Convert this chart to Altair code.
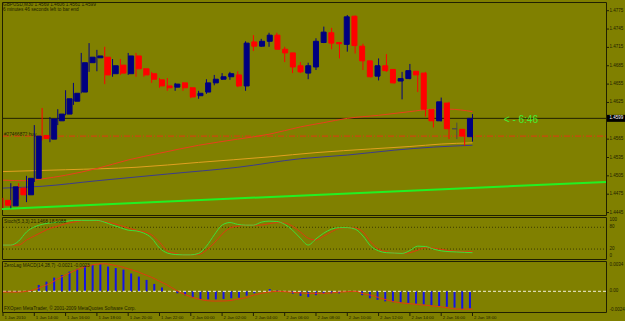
import altair as alt
import pandas as pd

# ---------------- data ----------------
bar_index = list(range(61))
opens = [1.4465, 1.4456, 1.4485, 1.4474, 1.4501, 1.4571, 1.4565, 1.4595, 1.4606, 1.4627,
         1.4642, 1.4690, 1.4698, 1.4699, 1.4672, 1.4686, 1.4672, 1.4701, 1.4680, 1.4672,
         1.4662, 1.4652, 1.4650, 1.4657, 1.4649, 1.4636, 1.4642, 1.4657, 1.4663, 1.4667,
         1.4670, 1.4652, 1.4724, 1.4717, 1.4725, 1.4735, 1.4712, 1.4706, 1.4685, 1.4673,
         1.4683, 1.4723, 1.4739, 1.4723, 1.4720, 1.4766, 1.4717, 1.4693, 1.4668, 1.4685,
         1.4679, 1.4660, 1.4664, 1.4676, 1.4673, 1.4613, 1.4595, 1.4624, 1.4582, 1.4581,
         1.4569]
highs = [1.4469, 1.4493, 1.4493, 1.4505, 1.4588, 1.4616, 1.4601, 1.4614, 1.4645, 1.4657,
         1.4706, 1.4722, 1.4711, 1.4716, 1.4696, 1.4696, 1.4706, 1.4706, 1.4681, 1.4675,
         1.4665, 1.4665, 1.4657, 1.4658, 1.4650, 1.4644, 1.4663, 1.4670, 1.4673, 1.4675,
         1.4676, 1.4725, 1.4735, 1.4729, 1.4739, 1.4739, 1.4716, 1.4706, 1.4691, 1.4690,
         1.4730, 1.4749, 1.4747, 1.4724, 1.4768, 1.4767, 1.4721, 1.4693, 1.4697, 1.4704,
         1.4679, 1.4675, 1.4688, 1.4676, 1.4675, 1.4614, 1.4633, 1.4626, 1.4592, 1.4581,
         1.4606]
lows = [1.4452, 1.4452, 1.4467, 1.4462, 1.4495, 1.4563, 1.4560, 1.4588, 1.4604, 1.4621,
        1.4640, 1.4675, 1.4676, 1.4655, 1.4667, 1.4670, 1.4670, 1.4667, 1.4667, 1.4657,
        1.4649, 1.4644, 1.4644, 1.4644, 1.4632, 1.4631, 1.4639, 1.4653, 1.4662, 1.4662,
        1.4650, 1.4644, 1.4709, 1.4716, 1.4716, 1.4712, 1.4691, 1.4673, 1.4673, 1.4663,
        1.4678, 1.4722, 1.4712, 1.4697, 1.4708, 1.4705, 1.4678, 1.4666, 1.4661, 1.4675,
        1.4656, 1.4630, 1.4663, 1.4642, 1.4602, 1.4584, 1.4594, 1.4565, 1.4565, 1.4554,
        1.4561]
closes = [1.4457, 1.4487, 1.4474, 1.4501, 1.4570, 1.4566, 1.4598, 1.4606, 1.4631, 1.4640,
          1.4690, 1.4699, 1.4701, 1.4670, 1.4685, 1.4673, 1.4701, 1.4680, 1.4670, 1.4663,
          1.4652, 1.4649, 1.4655, 1.4649, 1.4634, 1.4640, 1.4657, 1.4663, 1.4667, 1.4672,
          1.4652, 1.4722, 1.4717, 1.4725, 1.4735, 1.4712, 1.4706, 1.4683, 1.4675, 1.4685,
          1.4725, 1.4740, 1.4722, 1.4721, 1.4765, 1.4718, 1.4693, 1.4667, 1.4685, 1.4677,
          1.4657, 1.4664, 1.4677, 1.4670, 1.4614, 1.4595, 1.4626, 1.4582, 1.4582, 1.4570,
          1.4599]

ma_red_bars = [0, 3, 5, 8, 12, 16, 20, 25, 30, 34, 38, 41, 44, 48, 52, 55, 57, 60]
ma_red_vals = [1.4498, 1.4497, 1.4500, 1.4506, 1.4517, 1.4531, 1.4542, 1.4555, 1.4565,
               1.4573, 1.4585, 1.4592, 1.4599, 1.4604, 1.4610, 1.4614, 1.4614, 1.4610]
ma_gold_bars = [0, 8, 17, 25, 34, 40, 47, 52, 56, 60]
ma_gold_vals = [1.4512, 1.4515, 1.4519, 1.4527, 1.4536, 1.4543, 1.4549, 1.4553, 1.4557, 1.4559]
ma_blue_bars = [0, 5, 12, 21, 30, 38, 44, 50, 55, 60]
ma_blue_vals = [1.4485, 1.4488, 1.4497, 1.4508, 1.4519, 1.4533, 1.4539, 1.4547, 1.4552, 1.4555]
trend_bars = [-0.13, 77.06]
trend_vals = [1.4451, 1.4495]

bid_price = [1.4599]
order_price = [1.4570]

price_ticks = [1.4775, 1.4745, 1.4715, 1.4685, 1.4655, 1.4625, 1.4565, 1.4535, 1.4505, 1.4475, 1.4445]
price_tick_labels = ["1.4775", "1.4745", "1.4715", "1.4685", "1.4655", "1.4625",
                     "1.4565", "1.4535", "1.4505", "1.4475", "1.4445"]

time_tick_bars = [0, 4, 8, 12, 16, 20, 24, 28, 32, 36, 40, 44, 48, 52, 56, 60]
time_tick_labels = ["1 Jan 2010", "1 Jan 14:00", "1 Jan 16:00", "1 Jan 18:00", "1 Jan 20:00",
                    "1 Jan 22:00", "2 Jan 00:00", "2 Jan 02:00", "2 Jan 04:00", "2 Jan 06:00",
                    "2 Jan 08:00", "2 Jan 10:00", "2 Jan 12:00", "2 Jan 14:00", "2 Jan 16:00",
                    "2 Jan 18:00"]

stoch_k = [31, 31, 42, 67, 81, 88, 92, 94, 96, 99,
           99, 99, 99, 94, 86, 79, 72, 70, 64, 50,
           23, 9, 5, 4, 4, 8, 28, 59, 86, 93,
           88, 86, 86, 94, 97, 96, 88, 72, 50, 31,
           48, 64, 75, 79, 79, 75, 56, 28, 15, 10,
           9, 8, 16, 28, 27, 20, 15, 13, 12, 11,
           10]
stoch_d = [31, 31, 31, 45, 56, 67, 77, 83, 90, 94,
           98, 99, 98, 96, 91, 85, 78, 72, 68, 59,
           39, 15, 8, 4, 4, 5, 17, 37, 61, 78,
           83, 86, 86, 86, 90, 93, 92, 83, 67, 50,
           45, 56, 68, 77, 79, 78, 67, 39, 20, 13,
           9, 8, 10, 17, 24, 23, 19, 16, 14, 13,
           13]
stoch_levels = [80, 20]
stoch_ticks = [100, 80, 20, 0]
stoch_tick_labels = ["100", "80", "20", "0"]

macd_hist = [-0.00005, -0.0001, 0.0, 0.0001, 0.00082, 0.00125, 0.00177, 0.0021, 0.00255, 0.0029,
             0.0033, 0.0034, 0.0035, 0.0032, 0.0030, 0.0028, 0.0023, 0.0019, 0.00147, 0.00095,
             0.0005, 0.0, -0.00026, -0.0005, -0.00083, -0.001, -0.00104, -0.00104, -0.001, -0.0009,
             -0.00083, -0.00057, -0.00026, 0.0, 0.0003, 0.0001, 0.0, -0.0003, -0.0006, -0.00075,
             -0.0005, -0.0003, -0.00026, -0.00026, 0.0, 0.0, -0.0005, -0.0009, -0.0011, -0.0013,
             -0.0014, -0.00147, -0.0015, -0.0016, -0.0017, -0.0018, -0.0019, -0.002, -0.0021, -0.0023,
             -0.0022]
macd_signal = [-0.0001, -0.0001, -0.0001, 0.0, 0.0002, 0.0006, 0.001, 0.0016, 0.0021, 0.0026,
               0.003, 0.0033, 0.0035, 0.00355, 0.0034, 0.0032, 0.0029, 0.0026, 0.0022, 0.0018,
               0.0013, 0.0008, 0.0002, -0.0003, -0.0007, -0.001, -0.0012, -0.00126, -0.00125, -0.0012,
               -0.001, -0.00083, -0.0005, -0.00026, -0.0001, 0.0, -0.00005, -0.00013, -0.0002, -0.00026,
               -0.00026, -0.00026, -0.0002, -0.0001, -0.00005, 0.0, -0.0003, -0.0005, -0.0008, -0.0011,
               -0.00135, -0.0015, -0.0016, -0.0017, -0.0018, -0.0019, -0.002, -0.00215, -0.0023, -0.0023,
               -0.0023]
macd_zero = [0.0]
macd_ticks = [0.0034, 0.0, -0.0024]
macd_tick_labels = ["0.0034", "0.00", "-0.0024"]

header_line1 = "GBPUSD,M30  1.4569 1.4606 1.4561 1.4599"
header_line2 = "6 minutes 46 seconds left to bar end"
order_label = "#27466872 buy"
timer_text = "< - 6:46"
stoch_title = "Stoch(5,3,3) 21.1468 18.5088"
macd_title = "ZeroLag MACD(14,28,7) -0.0021 -0.0023"
copyright_text = "FXOpen MetaTrader, \u00a9 2001-2009 MetaQuotes Software Corp."

# ---------------- scales (each panel occupies its own band) ----------------
X_DOM = [-0.3834, 79.49]
P_DOM = [1.42677, 1.47925]
S_DOM = [-178.2, 706.1]
M_DOM = [-0.003832, 0.037587]

BG = "#808000"
FG = "#202000"
FONT = "Liberation Sans"
FS = 4.7      # general small text
FS_AX = 4.5   # right-axis labels
FS_T = 4.3    # time labels


def X(field):
    return alt.X(f"{field}:Q", scale=alt.Scale(domain=X_DOM, nice=False, zero=False), axis=None)


def Y(field, dom):
    return alt.Y(f"{field}:Q", scale=alt.Scale(domain=dom, nice=False, zero=False), axis=None)


def small_text(size=FS, color=FG, **kw):
    return dict(align="left", baseline="middle", fontSize=size, font=FONT, color=color, **kw)


one = pd.DataFrame({"k": [0]})

candles = pd.DataFrame({"bar": bar_index, "open": opens, "high": highs, "low": lows, "close": closes})
candles["dir"] = ["up" if c > o else ("down" if c < o else "doji") for o, c in zip(opens, closes)]
cscale = alt.Scale(domain=["up", "down", "doji"], range=["#000080", "#ff0000", "#4a4a4a"])

layers = []

# panel frames
for (y1, y2) in [(2.5, 215.5), (217.5, 259.5), (261.5, 312.5)]:
    layers.append(
        alt.Chart(one).mark_rect(fillOpacity=0, stroke=FG, strokeWidth=1).encode(
            x=alt.value(2.5), x2=alt.value(606.5), y=alt.value(y1), y2=alt.value(y2)
        )
    )

# order line label (under candles)
layers.append(
    alt.Chart(pd.DataFrame({"p": order_price})).mark_text(**small_text(dy=-1.5)).encode(
        x=alt.value(4), y=Y("p", P_DOM), text=alt.value(order_label)
    )
)

# order line (red dash-dot)
layers.append(
    alt.Chart(pd.DataFrame({"p": order_price})).mark_rule(
        color="#e03a10", strokeWidth=1, strokeDash=[6, 2, 1, 2]
    ).encode(x=alt.value(3), x2=alt.value(606), y=Y("p", P_DOM))
)

# bid line
layers.append(
    alt.Chart(pd.DataFrame({"p": bid_price})).mark_rule(color=FG, strokeWidth=1).encode(
        x=alt.value(3), x2=alt.value(606), y=Y("p", P_DOM)
    )
)

# moving averages and trend line
for bars_, vals_, col, w in [
    (ma_blue_bars, ma_blue_vals, "#3c3c8c", 1),
    (ma_gold_bars, ma_gold_vals, "#e0a020", 1),
    (ma_red_bars, ma_red_vals, "#e8401c", 1),
    (trend_bars, trend_vals, "#22f022", 2),
]:
    layers.append(
        alt.Chart(pd.DataFrame({"bar": bars_, "v": vals_})).mark_line(
            color=col, strokeWidth=w, interpolate="monotone"
        ).encode(x=X("bar"), y=Y("v", P_DOM))
    )

# candle wicks and bodies
layers.append(
    alt.Chart(candles).mark_rule(strokeWidth=1).encode(
        x=X("bar"), y=Y("low", P_DOM), y2="high:Q",
        color=alt.Color("dir:N", scale=cscale, legend=None)
    )
)
layers.append(
    alt.Chart(candles).mark_bar(width=5, strokeWidth=1).encode(
        x=X("bar"), y=Y("open", P_DOM), y2="close:Q",
        color=alt.Color("dir:N", scale=cscale, legend=None),
        stroke=alt.Stroke("dir:N", scale=cscale, legend=None)
    )
)

# timer text
layers.append(
    alt.Chart(pd.DataFrame({"bar": [64], "p": bid_price})).mark_text(
        **small_text(size=10, color="#44ee33", dy=2)
    ).encode(x=X("bar"), y=Y("p", P_DOM), text=alt.value(timer_text))
)

# right price axis
pt = pd.DataFrame({"p": price_ticks, "t": price_tick_labels})
layers.append(
    alt.Chart(pt).mark_rule(color=FG, strokeWidth=1).encode(
        x=alt.value(606), x2=alt.value(609), y=Y("p", P_DOM)
    )
)
layers.append(
    alt.Chart(pt).mark_text(**small_text(size=FS_AX)).encode(
        x=alt.value(609.5), y=Y("p", P_DOM), text="t:N"
    )
)
# price box
layers.append(
    alt.Chart(pd.DataFrame({"p": bid_price})).mark_rule(color="#000000", strokeWidth=7).encode(
        x=alt.value(607), x2=alt.value(625), y=Y("p", P_DOM)
    )
)
layers.append(
    alt.Chart(pd.DataFrame({"p": bid_price, "t": ["%.4f" % bid_price[0]]})).mark_text(
        **small_text(size=FS_AX, color="#ffffff")
    ).encode(x=alt.value(609.5), y=Y("p", P_DOM), text="t:N")
)

# header texts
for txt, yy in [(header_line1, 5), (header_line2, 9.8)]:
    layers.append(
        alt.Chart(one).mark_text(**small_text()).encode(
            x=alt.value(3), y=alt.value(yy), text=alt.value(txt)
        )
    )

# ---------------- stochastic panel ----------------
layers.append(
    alt.Chart(pd.DataFrame({"s": stoch_levels})).mark_rule(
        color="#3a3a00", strokeWidth=1, strokeDash=[1, 2]
    ).encode(x=alt.value(3), x2=alt.value(606), y=Y("s", S_DOM))
)
stoch_df = pd.DataFrame({"bar": bar_index, "k": stoch_k, "d": stoch_d})
layers.append(
    alt.Chart(stoch_df).mark_line(color="#e03a10", strokeWidth=1, interpolate="monotone").encode(
        x=X("bar"), y=Y("d", S_DOM)
    )
)
layers.append(
    alt.Chart(stoch_df).mark_line(color="#3ee03a", strokeWidth=1, interpolate="monotone").encode(
        x=X("bar"), y=Y("k", S_DOM)
    )
)
st = pd.DataFrame({"s": stoch_ticks, "t": stoch_tick_labels})
layers.append(
    alt.Chart(st).mark_text(**small_text(size=FS_AX)).encode(
        x=alt.value(609.5), y=Y("s", S_DOM), text="t:N"
    )
)
layers.append(
    alt.Chart(one).mark_text(**small_text()).encode(
        x=alt.value(4), y=alt.value(221.5), text=alt.value(stoch_title)
    )
)

# ---------------- MACD panel ----------------
macd_df = pd.DataFrame({"bar": bar_index, "h": macd_hist, "sig": macd_signal})
layers.append(
    alt.Chart(macd_df).mark_bar(width=2, color="#1414e6").encode(
        x=X("bar"), y=Y("h", M_DOM), y2=alt.datum(0)
    )
)
layers.append(
    alt.Chart(pd.DataFrame({"m": macd_zero})).mark_rule(
        color="#f0f0d8", strokeWidth=1, strokeDash=[3, 2]
    ).encode(x=alt.value(3), x2=alt.value(606), y=Y("m", M_DOM))
)
layers.append(
    alt.Chart(macd_df).mark_line(color="#e03a10", strokeWidth=1, interpolate="monotone").encode(
        x=X("bar"), y=Y("sig", M_DOM)
    )
)
mt = pd.DataFrame({"m": macd_ticks, "t": macd_tick_labels})
layers.append(
    alt.Chart(mt).mark_text(**small_text(size=FS_AX)).encode(
        x=alt.value(609.5), y=Y("m", M_DOM), text="t:N"
    )
)
for txt, yy in [(macd_title, 266), (copyright_text, 308.5)]:
    layers.append(
        alt.Chart(one).mark_text(**small_text()).encode(
            x=alt.value(4), y=alt.value(yy), text=alt.value(txt)
        )
    )

# ---------------- time axis ----------------
tt = pd.DataFrame({"bar": time_tick_bars, "t": time_tick_labels})
layers.append(
    alt.Chart(tt).mark_rule(color=FG, strokeWidth=1).encode(
        x=X("bar"), y=alt.value(312.5), y2=alt.value(316)
    )
)
layers.append(
    alt.Chart(tt).mark_text(**small_text(size=FS_T, dx=1.5)).encode(
        x=X("bar"), y=alt.value(317.5), text="t:N"
    )
)

chart = (
    alt.layer(*layers)
    .resolve_scale(x="independent", y="independent", color="independent", stroke="independent")
    .properties(width=625, height=321, padding=0, autosize="none", background=BG)
    .configure_view(stroke=None)
)

chart.save("out.html", embed_options={"renderer": "svg", "actions": False})
